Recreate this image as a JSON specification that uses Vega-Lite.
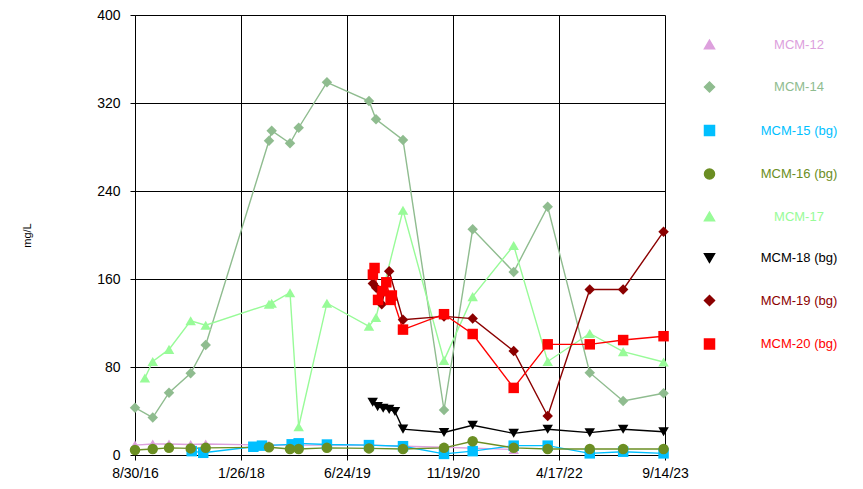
{
  "$schema": "https://vega.github.io/schema/vega-lite/v6.json",
  "width": 530,
  "height": 440,
  "autosize": "none",
  "padding": {"left": 135, "top": 15, "right": 198, "bottom": 34},
  "background": "white",
  "config": {
    "font": "Liberation Sans",
    "view": {"stroke": null},
    "axis": {
      "grid": true,
      "gridColor": "#000000",
      "gridOpacity": 1,
      "gridWidth": 1,
      "domainColor": "#000000",
      "domainWidth": 1,
      "tickColor": "#000000",
      "tickSize": 5,
      "labelColor": "#000000",
      "labelFontSize": 14,
      "labelFlush": false,
      "labelBound": false,
      "labelOverlap": false
    }
  },
  "data": {
    "values": [
      {"series": "MCM-12", "date": "2016-08-30", "value": 9},
      {"series": "MCM-12", "date": "2016-11-24", "value": 10},
      {"series": "MCM-12", "date": "2017-02-11", "value": 10},
      {"series": "MCM-12", "date": "2017-05-27", "value": 9.5},
      {"series": "MCM-12", "date": "2017-08-08", "value": 10},
      {"series": "MCM-12", "date": "2018-06-11", "value": 9},
      {"series": "MCM-12", "date": "2019-10-09", "value": 9},
      {"series": "MCM-12", "date": "2020-03-22", "value": 8},
      {"series": "MCM-12", "date": "2020-10-07", "value": 7},
      {"series": "MCM-12", "date": "2021-09-10", "value": 5},

      {"series": "MCM-14", "date": "2016-08-30", "value": 43},
      {"series": "MCM-14", "date": "2016-11-24", "value": 34},
      {"series": "MCM-14", "date": "2017-02-11", "value": 56.6},
      {"series": "MCM-14", "date": "2017-05-27", "value": 74.3},
      {"series": "MCM-14", "date": "2017-08-08", "value": 100},
      {"series": "MCM-14", "date": "2018-06-11", "value": 285.7},
      {"series": "MCM-14", "date": "2018-06-24", "value": 294.8},
      {"series": "MCM-14", "date": "2018-09-21", "value": 283.4},
      {"series": "MCM-14", "date": "2018-11-02", "value": 297.5},
      {"series": "MCM-14", "date": "2019-03-19", "value": 338.8},
      {"series": "MCM-14", "date": "2019-10-09", "value": 321.8},
      {"series": "MCM-14", "date": "2019-11-12", "value": 305.2},
      {"series": "MCM-14", "date": "2020-03-22", "value": 286.4},
      {"series": "MCM-14", "date": "2020-10-07", "value": 40.9},
      {"series": "MCM-14", "date": "2021-02-23", "value": 205.2},
      {"series": "MCM-14", "date": "2021-09-10", "value": 166.4},
      {"series": "MCM-14", "date": "2022-02-22", "value": 225.7},
      {"series": "MCM-14", "date": "2022-09-14", "value": 74.8},
      {"series": "MCM-14", "date": "2023-02-23", "value": 49.1},
      {"series": "MCM-14", "date": "2023-09-07", "value": 56.1},

      {"series": "MCM-15 (bg)", "date": "2017-06-01", "value": 3.5},
      {"series": "MCM-15 (bg)", "date": "2017-07-27", "value": 2},
      {"series": "MCM-15 (bg)", "date": "2018-03-27", "value": 7.5},
      {"series": "MCM-15 (bg)", "date": "2018-05-08", "value": 8.5},
      {"series": "MCM-15 (bg)", "date": "2018-09-29", "value": 9.7},
      {"series": "MCM-15 (bg)", "date": "2018-11-02", "value": 10.6},
      {"series": "MCM-15 (bg)", "date": "2019-03-19", "value": 9.5},
      {"series": "MCM-15 (bg)", "date": "2019-10-09", "value": 9},
      {"series": "MCM-15 (bg)", "date": "2020-03-22", "value": 8},
      {"series": "MCM-15 (bg)", "date": "2020-10-07", "value": 1},
      {"series": "MCM-15 (bg)", "date": "2021-02-23", "value": 3.5},
      {"series": "MCM-15 (bg)", "date": "2021-09-10", "value": 8.5},
      {"series": "MCM-15 (bg)", "date": "2022-02-22", "value": 8.5},
      {"series": "MCM-15 (bg)", "date": "2022-09-14", "value": 1.5},
      {"series": "MCM-15 (bg)", "date": "2023-02-23", "value": 3},
      {"series": "MCM-15 (bg)", "date": "2023-09-07", "value": 1.5},

      {"series": "MCM-16 (bg)", "date": "2016-08-30", "value": 4.5},
      {"series": "MCM-16 (bg)", "date": "2016-11-24", "value": 5.5},
      {"series": "MCM-16 (bg)", "date": "2017-02-11", "value": 6.5},
      {"series": "MCM-16 (bg)", "date": "2017-05-27", "value": 6},
      {"series": "MCM-16 (bg)", "date": "2017-08-08", "value": 6.5},
      {"series": "MCM-16 (bg)", "date": "2018-06-11", "value": 7},
      {"series": "MCM-16 (bg)", "date": "2018-09-21", "value": 5.5},
      {"series": "MCM-16 (bg)", "date": "2018-11-02", "value": 5.5},
      {"series": "MCM-16 (bg)", "date": "2019-03-19", "value": 6.5},
      {"series": "MCM-16 (bg)", "date": "2019-10-09", "value": 6},
      {"series": "MCM-16 (bg)", "date": "2020-03-22", "value": 5.5},
      {"series": "MCM-16 (bg)", "date": "2020-10-07", "value": 6.5},
      {"series": "MCM-16 (bg)", "date": "2021-02-23", "value": 12.5},
      {"series": "MCM-16 (bg)", "date": "2021-09-10", "value": 6.5},
      {"series": "MCM-16 (bg)", "date": "2022-02-22", "value": 5.5},
      {"series": "MCM-16 (bg)", "date": "2022-09-14", "value": 5.5},
      {"series": "MCM-16 (bg)", "date": "2023-02-23", "value": 5.5},
      {"series": "MCM-16 (bg)", "date": "2023-09-07", "value": 5.5},

      {"series": "MCM-17", "date": "2016-10-17", "value": 70},
      {"series": "MCM-17", "date": "2016-11-24", "value": 85},
      {"series": "MCM-17", "date": "2017-02-11", "value": 96},
      {"series": "MCM-17", "date": "2017-05-27", "value": 122},
      {"series": "MCM-17", "date": "2017-08-08", "value": 118},
      {"series": "MCM-17", "date": "2018-06-11", "value": 137},
      {"series": "MCM-17", "date": "2018-06-24", "value": 138},
      {"series": "MCM-17", "date": "2018-09-21", "value": 147.5},
      {"series": "MCM-17", "date": "2018-11-02", "value": 25.7},
      {"series": "MCM-17", "date": "2019-03-19", "value": 138},
      {"series": "MCM-17", "date": "2019-10-09", "value": 117},
      {"series": "MCM-17", "date": "2019-11-12", "value": 125},
      {"series": "MCM-17", "date": "2020-03-22", "value": 222.5},
      {"series": "MCM-17", "date": "2020-10-07", "value": 86},
      {"series": "MCM-17", "date": "2021-02-23", "value": 144},
      {"series": "MCM-17", "date": "2021-09-10", "value": 190.5},
      {"series": "MCM-17", "date": "2022-02-22", "value": 85},
      {"series": "MCM-17", "date": "2022-09-14", "value": 110.5},
      {"series": "MCM-17", "date": "2023-02-23", "value": 94},
      {"series": "MCM-17", "date": "2023-09-07", "value": 84.5},

      {"series": "MCM-18 (bg)", "date": "2019-10-27", "value": 48},
      {"series": "MCM-18 (bg)", "date": "2019-11-20", "value": 44},
      {"series": "MCM-18 (bg)", "date": "2019-12-17", "value": 42.5},
      {"series": "MCM-18 (bg)", "date": "2020-01-15", "value": 41.5},
      {"series": "MCM-18 (bg)", "date": "2020-02-12", "value": 39.5},
      {"series": "MCM-18 (bg)", "date": "2020-03-22", "value": 23.5},
      {"series": "MCM-18 (bg)", "date": "2020-10-07", "value": 20.5},
      {"series": "MCM-18 (bg)", "date": "2021-02-23", "value": 27},
      {"series": "MCM-18 (bg)", "date": "2021-09-10", "value": 19.7},
      {"series": "MCM-18 (bg)", "date": "2022-02-22", "value": 23.4},
      {"series": "MCM-18 (bg)", "date": "2022-09-14", "value": 20.3},
      {"series": "MCM-18 (bg)", "date": "2023-02-23", "value": 23.4},
      {"series": "MCM-18 (bg)", "date": "2023-09-07", "value": 21.2},

      {"series": "MCM-19 (bg)", "date": "2019-10-28", "value": 156},
      {"series": "MCM-19 (bg)", "date": "2019-11-13", "value": 152},
      {"series": "MCM-19 (bg)", "date": "2019-12-10", "value": 137},
      {"series": "MCM-19 (bg)", "date": "2020-01-15", "value": 167},
      {"series": "MCM-19 (bg)", "date": "2020-03-22", "value": 123},
      {"series": "MCM-19 (bg)", "date": "2020-10-07", "value": 126},
      {"series": "MCM-19 (bg)", "date": "2021-02-23", "value": 124},
      {"series": "MCM-19 (bg)", "date": "2021-09-10", "value": 94.5},
      {"series": "MCM-19 (bg)", "date": "2022-02-22", "value": 35.5},
      {"series": "MCM-19 (bg)", "date": "2022-09-14", "value": 150.5},
      {"series": "MCM-19 (bg)", "date": "2023-02-23", "value": 150.5},
      {"series": "MCM-19 (bg)", "date": "2023-09-07", "value": 203},

      {"series": "MCM-20 (bg)", "date": "2019-10-28", "value": 164},
      {"series": "MCM-20 (bg)", "date": "2019-11-05", "value": 170},
      {"series": "MCM-20 (bg)", "date": "2019-11-22", "value": 141},
      {"series": "MCM-20 (bg)", "date": "2019-12-14", "value": 149},
      {"series": "MCM-20 (bg)", "date": "2020-01-01", "value": 157},
      {"series": "MCM-20 (bg)", "date": "2020-01-22", "value": 141},
      {"series": "MCM-20 (bg)", "date": "2020-01-28", "value": 145},
      {"series": "MCM-20 (bg)", "date": "2020-03-22", "value": 114},
      {"series": "MCM-20 (bg)", "date": "2020-10-07", "value": 128},
      {"series": "MCM-20 (bg)", "date": "2021-02-23", "value": 110},
      {"series": "MCM-20 (bg)", "date": "2021-09-10", "value": 61},
      {"series": "MCM-20 (bg)", "date": "2022-02-22", "value": 100.6},
      {"series": "MCM-20 (bg)", "date": "2022-09-14", "value": 100.6},
      {"series": "MCM-20 (bg)", "date": "2023-02-23", "value": 104.5},
      {"series": "MCM-20 (bg)", "date": "2023-09-07", "value": 108}
    ]
  },
  "encoding": {
    "x": {
      "field": "date",
      "type": "temporal",
      "scale": {
        "type": "utc",
        "domain": [
          {"year": 2016, "month": 8, "date": 30, "utc": true},
          {"year": 2023, "month": 9, "date": 14, "utc": true}
        ]
      },
      "axis": {
        "title": null,
        "format": "%-m/%-d/%y",
        "labelPadding": 6,
        "values": [
          {"year": 2016, "month": 8, "date": 30, "utc": true},
          {"year": 2018, "month": 1, "date": 26, "utc": true},
          {"year": 2019, "month": 6, "date": 24, "utc": true},
          {"year": 2020, "month": 11, "date": 19, "utc": true},
          {"year": 2022, "month": 4, "date": 17, "utc": true},
          {"year": 2023, "month": 9, "date": 14, "utc": true}
        ]
      }
    },
    "y": {
      "field": "value",
      "type": "quantitative",
      "scale": {"domain": [0, 400], "nice": false},
      "axis": {
        "values": [0, 80, 160, 240, 320, 400],
        "title": "mg/L",
        "titleFontSize": 11,
        "titleFontWeight": "normal",
        "titleColor": "#000000",
        "titlePadding": 64,
        "labelPadding": 10
      }
    },
    "color": {
      "field": "series",
      "type": "nominal",
      "scale": {
        "domain": ["MCM-12", "MCM-14", "MCM-15 (bg)", "MCM-16 (bg)", "MCM-17", "MCM-18 (bg)", "MCM-19 (bg)", "MCM-20 (bg)"],
        "range": ["#DDA0DD", "#8FBC8F", "#00BFFF", "#6B8E23", "#98FB98", "#000000", "#8B0000", "#FF0000"]
      },
      "legend": {
        "title": null,
        "orient": "none",
        "legendX": 568,
        "legendY": 23,
        "symbolSize": 100,
        "labelFontSize": 13,
        "labelAlign": "center",
        "labelOffset": 83,
        "rowPadding": 26.5,
        "labelColor": {"expr": "scale('color', datum.value)"}
      }
    }
  },
  "layer": [
    {"mark": {"type": "line", "strokeWidth": 1.4}},
    {
      "mark": {"type": "point", "filled": true, "opacity": 1, "size": 110},
      "encoding": {
        "shape": {
          "field": "series",
          "type": "nominal",
          "scale": {
            "domain": ["MCM-12", "MCM-14", "MCM-15 (bg)", "MCM-16 (bg)", "MCM-17", "MCM-18 (bg)", "MCM-19 (bg)", "MCM-20 (bg)"],
            "range": ["triangle-up", "diamond", "square", "circle", "triangle-up", "triangle-down", "diamond", "square"]
          },
          "legend": {
            "title": null,
            "orient": "none",
            "legendX": 568,
            "legendY": 23,
            "symbolSize": 100,
            "labelFontSize": 13,
            "labelAlign": "center",
            "labelOffset": 83,
            "rowPadding": 26.5,
            "labelColor": {"expr": "scale('color', datum.value)"}
          }
        }
      }
    }
  ]
}
